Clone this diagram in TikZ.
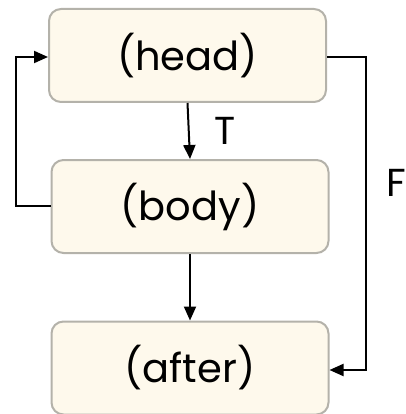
\documentclass[tikz,border=0pt]{standalone}
\usepackage{fontspec}
\setmainfont{Poppins}
\usetikzlibrary{arrows.meta}
\begin{document}
\begin{tikzpicture}[x=1pt,y=-1pt,
  blk/.style={draw=boxgray,fill=boxfill,line width=2pt,rounded corners=12pt,minimum width=277pt,minimum height=93pt,font=\fontsize{40}{46}\selectfont,inner sep=0pt},
  conn/.style={line width=2pt,-{Triangle[length=14pt,width=12pt]}},
  lbl/.style={font=\fontsize{39}{45}\selectfont,inner sep=0pt}]
\definecolor{boxgray}{HTML}{B4B2AA}
\definecolor{boxfill}{HTML}{FEF9EC}
\useasboundingbox (0,0) rectangle (405,414);
\node[blk] (head) at (187.5,55.5) {(head)};
\node[blk] (body) at (190,206.5) {(body)};
\node[blk] (after) at (190,368) {(after)};
\draw[conn] (head.south) -- (body.north);
\node[lbl] (t) at (225,131) {T};
\draw[conn] (body.south) -- (after.north);
\coordinate (l1) at (16,206);
\coordinate (l2) at (16,57);
\draw[conn] (body.west |- l1) -- (l1) -- (l2) -- (head.west |- l2);
\coordinate (r1) at (366,57);
\coordinate (r2) at (366,370);
\draw[conn] (head.east |- r1) -- (r1) -- (r2) -- (after.east |- r2);
\node[lbl,anchor=west] (f) at (386,183) {F};
\end{tikzpicture}
\end{document}
